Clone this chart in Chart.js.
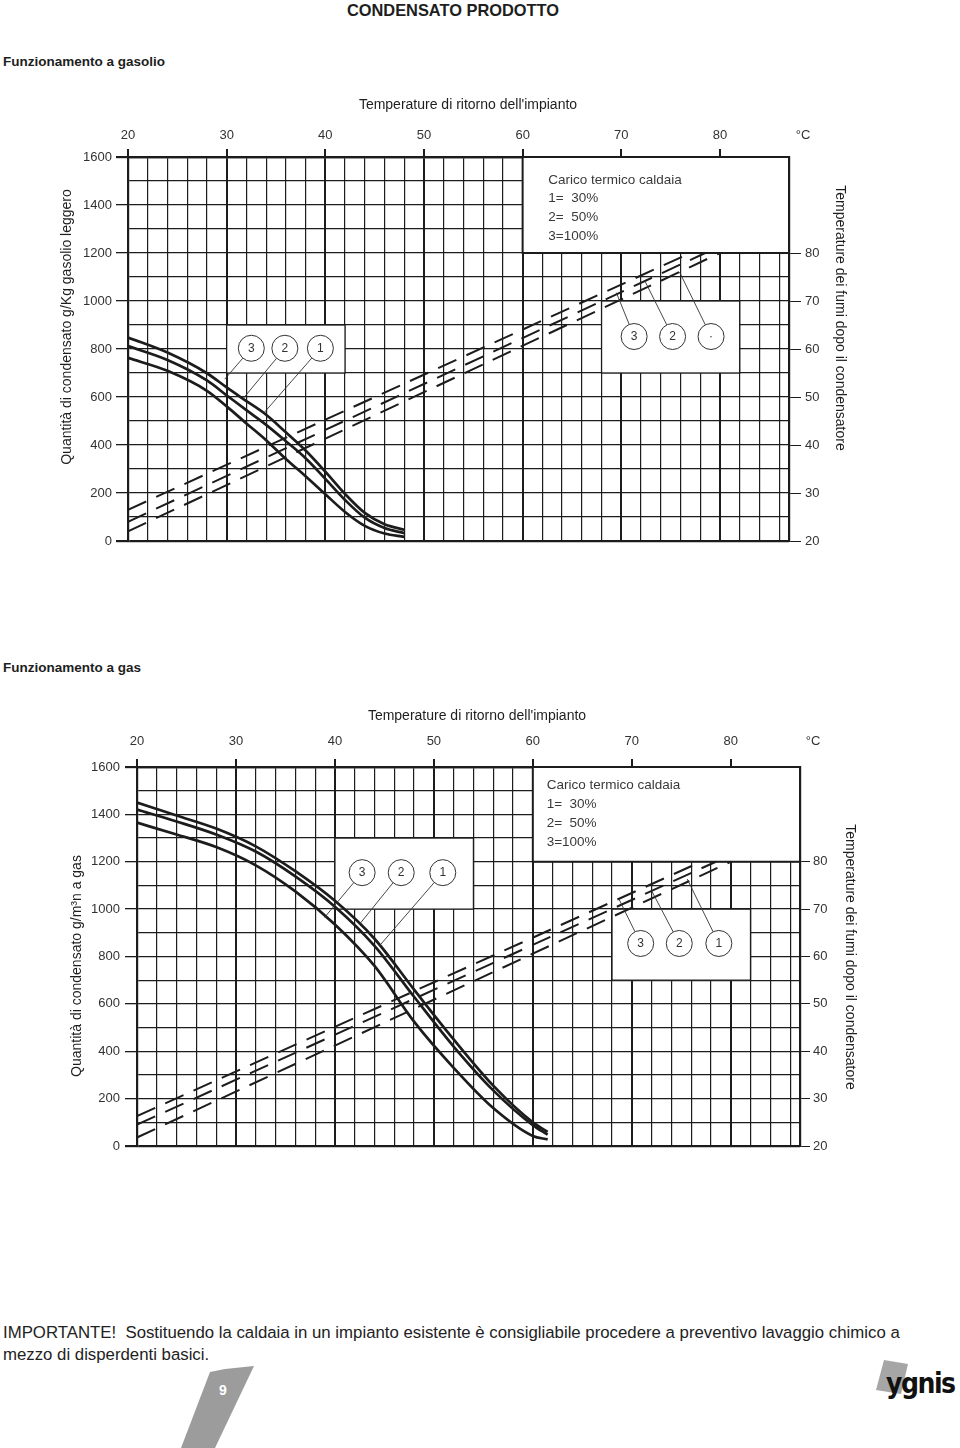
<!DOCTYPE html>
<html lang="it">
<head>
<meta charset="utf-8">
<title>Condensato prodotto</title>
<script src="https://cdn.jsdelivr.net/npm/chart.js@4.4.0/dist/chart.umd.min.js"></script>
<style>
  body { margin: 0; background: #fff; }
  #pagina { position: relative; width: 960px; height: 1448px; overflow: hidden; color: #1e1e1e; font-family: "Liberation Sans", Arial, sans-serif; }
  #pagina canvas { position: absolute; left: 0; }
  .titolo { position: absolute; top: 1px; left: 0; width: 906px; text-align: center; font-weight: bold; font-size: 16.4px; line-height: 18px; }
  .sezione { position: absolute; left: 3px; font-weight: bold; font-size: 13.5px; line-height: 16px; }
  .nota { position: absolute; left: 3px; top: 1322px; font-size: 16.8px; line-height: 22px; white-space: pre; color: #222; }
  .nastro { position: absolute; left: 180px; top: 1364px; width: 74px; height: 84px; background: #9c9c9c;
            clip-path: polygon(30px 8px, 45px 5px, 74px 2px, 35px 84px, 1px 84px); }
  .nastro span { position: absolute; left: 39px; top: 18px; color: #fff; font-weight: bold; font-size: 14px; }
  .logo-fondo { position: absolute; left: 876px; top: 1360px; width: 32px; height: 34px; background: #a6a6a6;
                clip-path: polygon(8px 0, 32px 4px, 25px 34px, 0 30px); }
  .logo { position: absolute; left: 886px; top: 1367px; font-weight: bold; font-size: 28px; letter-spacing: -1.5px; color: #111;
          font-family: "Liberation Sans Narrow", "DejaVu Sans Condensed", sans-serif; }
</style>
</head>
<body>
<div id="pagina">
  <div class="titolo">CONDENSATO PRODOTTO</div>
  <div class="sezione" style="top:54px">Funzionamento a gasolio</div>
  <canvas id="graficoGasolio" width="960" height="470" style="top:90px"></canvas>
  <div class="sezione" style="top:660px">Funzionamento a gas</div>
  <canvas id="graficoGas" width="960" height="470" style="top:700px"></canvas>
  <div class="nota">IMPORTANTE!  Sostituendo la caldaia in un impianto esistente è consigliabile procedere a preventivo lavaggio chimico a
mezzo di disperdenti basici.</div>
  <div class="nastro"><span>9</span></div>
  <div class="logo-fondo"></div>
  <div class="logo">ygnis</div>
</div>

<script>
//ETICHETTE DEGLI ASSI//
const etichetteRitorno = [20, 30, 40, 50, 60, 70, 80]   // asse superiore, °C
const etichetteQuantita = [0, 200, 400, 600, 800, 1000, 1200, 1400, 1600]
const etichetteFumi = [20, 30, 40, 50, 60, 70, 80]      // asse destro, °C

//GASOLIO - condensato (g/Kg) per carico 30/50/100%
const gasolioT = [20, 24, 28, 30, 32, 34, 36, 38, 40, 42, 44, 46, 48]
const gasolioCarico30 = [848, 785, 699, 640, 583, 526, 453, 377, 289, 196, 117, 70, 47]
const gasolioCarico50 = [812, 754, 669, 607, 545, 484, 416, 345, 259, 171, 97, 54, 33]
const gasolioCarico100 = [763, 709, 626, 561, 490, 420, 342, 270, 195, 121, 63, 31, 17]
//GASOLIO - temperatura fumi (tratteggio)
const gasolioFumiT30 = [20, 80], gasolioFumi30 = [22, 80]
const gasolioFumiT50 = [20, 78.5], gasolioFumi50 = [24, 80]
const gasolioFumiT100 = [20, 77], gasolioFumi100 = [26.5, 80]

//GAS - condensato (g/m3n)
const gasT = [20, 24, 28, 32, 36, 40, 44, 48, 52, 56, 60, 61.5]
const gasCarico30 = [1450, 1395, 1340, 1265, 1160, 1035, 875, 660, 450, 255, 100, 60]
const gasCarico50 = [1420, 1370, 1315, 1243, 1138, 1010, 845, 630, 420, 235, 88, 48]
const gasCarico100 = [1365, 1315, 1262, 1185, 1075, 935, 760, 525, 330, 160, 42, 28]
//GAS - temperatura fumi
const gasFumiT30 = [20, 80], gasFumi30 = [21.8, 80]
const gasFumiT50 = [20, 78.5], gasFumi50 = [24.5, 80]
const gasFumiT100 = [20, 77], gasFumi100 = [26.3, 80]

const legendaRighe = ["Carico termico caldaia", "1=  30%", "2=  50%", "3=100%"]

const FONT = '"Liberation Sans", Arial, sans-serif'
const NERO = '#1c1c1c'


function punti(t, v) {
    return t.map((tt, i) => ({ x: tt, y: v[i] }))
}

// posizioni della griglia ogni "passo", piu' il bordo finale
function griglia(min, max, passo) {
    const out = []
    for (let v = min; v < max - 0.001; v += passo) out.push(Math.round(v * 100) / 100)
    out.push(max)
    return out
}

function curva(t, v) {
    return {
        data: punti(t, v), yAxisID: 'y', showLine: true, pointRadius: 0,
        borderColor: NERO, borderWidth: 2.7, cubicInterpolationMode: 'monotone'
    }
}

function tratteggio(t, v) {
    return {
        data: punti(t, v), yAxisID: 'y2', showLine: true, pointRadius: 0,
        borderColor: NERO, borderWidth: 2, borderDash: [20, 11]
    }
}

//PLUGIN: riquadri bianchi, cerchi di richiamo, legenda e titoli assi
const decorPlugin = {
    id: 'decor',
    beforeDatasetsDraw(chart, args, o) {
        const ctx = chart.ctx, x = chart.scales.x, y = chart.scales.y
        ctx.save()
        o.riquadri.forEach(r => {
            const x0 = x.getPixelForValue(r.t[0]), x1 = x.getPixelForValue(r.t[1])
            const ya = y.getPixelForValue(r.q[1]), yb = y.getPixelForValue(r.q[0])
            ctx.fillStyle = '#fff'
            ctx.fillRect(x0, ya, x1 - x0, yb - ya)
            ctx.strokeStyle = NERO
            ctx.lineWidth = r.w
            ctx.strokeRect(x0, ya, x1 - x0, yb - ya)
        })
        ctx.restore()
    },
    afterDatasetsDraw(chart, args, o) {
        const ctx = chart.ctx, x = chart.scales.x, y = chart.scales.y
        ctx.save()
        ctx.fillStyle = '#3a3a3a'
        ctx.font = '13.5px ' + FONT
        ctx.textBaseline = 'middle'
        legendaRighe.forEach((riga, i) => {
            ctx.fillText(riga, x.getPixelForValue(o.legenda.t), y.getPixelForValue(o.legenda.q[i]))
        })
        o.cerchi.forEach(c => {
            const cx = x.getPixelForValue(c.t), cy = y.getPixelForValue(c.q)
            const ex = x.getPixelForValue(c.fine[0]), ey = y.getPixelForValue(c.fine[1])
            const a = Math.atan2(ey - cy, ex - cx)
            ctx.strokeStyle = '#333'
            ctx.lineWidth = 0.9
            ctx.beginPath()
            ctx.moveTo(cx + 13 * Math.cos(a), cy + 13 * Math.sin(a))
            ctx.lineTo(ex, ey)
            ctx.stroke()
            ctx.beginPath()
            ctx.arc(cx, cy, 13, 0, Math.PI * 2)
            ctx.fillStyle = '#fff'
            ctx.fill()
            ctx.lineWidth = 1
            ctx.stroke()
            ctx.fillStyle = '#333'
            ctx.font = '12px ' + FONT
            ctx.textAlign = 'center'
            ctx.fillText(c.n, cx, cy + 0.5)
            ctx.textAlign = 'left'
        })
        ctx.restore()
    },
    afterDraw(chart, args, o) {
        const ctx = chart.ctx, ca = chart.chartArea
        const midX = (ca.left + ca.right) / 2, midY = (ca.top + ca.bottom) / 2
        ctx.save()
        ctx.fillStyle = '#1e1e1e'
        ctx.font = '14px ' + FONT
        ctx.textAlign = 'center'
        ctx.textBaseline = 'middle'
        ctx.fillText(o.titoli.x, midX + o.titoli.px[0], ca.top + o.titoli.px[1])
        ctx.save()
        ctx.translate(ca.left + o.titoli.py[0], midY + o.titoli.py[1])
        ctx.rotate(-Math.PI / 2)
        ctx.fillText(o.titoli.y, 0, 0)
        ctx.restore()
        ctx.save()
        ctx.translate(ca.right + o.titoli.py2[0], midY + o.titoli.py2[1])
        ctx.rotate(Math.PI / 2)
        ctx.fillText(o.titoli.y2, 0, 0)
        ctx.restore()
        ctx.fillStyle = '#333'
        ctx.font = '13px ' + FONT
        ctx.fillText('°C', ca.right + o.gradi[0], ca.top + o.gradi[1])
        ctx.restore()
    }
}

function creaScale(g) {
    const tick = { color: '#333', font: { family: FONT, size: 13 } }
    return {
        x: {
            type: 'linear', position: 'top', min: 20, max: g.xMax,
            afterBuildTicks: s => { s.ticks = griglia(20, g.xMax, 2).map(v => ({ value: v })) },
            afterFit: s => { s.height = g.T },
            ticks: { ...tick, autoSkip: false, maxRotation: 0, padding: g.padX,
                callback: v => etichetteRitorno.includes(v) ? String(v) : '' },
            grid: {
                color: NERO, tickLength: 8,
                lineWidth: c => (c.tick.value % 10 === 0 || c.tick.value === g.xMax) ? 2 : 1.2,
                tickColor: c => etichetteRitorno.includes(c.tick.value) ? NERO : 'rgba(0,0,0,0)'
            },
            border: { color: NERO, width: 2.2 }
        },
        y: {
            type: 'linear', position: 'left', min: 0, max: 1600,
            afterBuildTicks: s => { s.ticks = griglia(0, 1600, 100).map(v => ({ value: v })) },
            afterFit: s => { s.width = g.L },
            ticks: { ...tick, padding: g.padY, callback: v => etichetteQuantita.includes(v) ? String(v) : '' },
            grid: {
                color: NERO, tickLength: 12,
                lineWidth: c => (c.tick.value === 0 || c.tick.value === 1600) ? 2.2 : 1.3,
                tickColor: c => etichetteQuantita.includes(c.tick.value) ? NERO : 'rgba(0,0,0,0)'
            },
            border: { color: NERO, width: 2.2 }
        },
        y2: {
            type: 'linear', position: 'right', min: 20, max: 100,
            afterBuildTicks: s => { s.ticks = etichetteFumi.map(v => ({ value: v })) },
            afterFit: s => { s.width = 960 - g.R },
            ticks: { ...tick, padding: g.padY2 },
            grid: { drawOnChartArea: false, color: NERO, tickLength: g.tickY2 },
            border: { color: NERO, width: 2.2 }
        }
    }
}

function creaGrafico(id, g, datasets, decor) {
    return new Chart(document.getElementById(id), {
        type: 'scatter',
        data: { datasets },
        options: {
            responsive: false, animation: false, devicePixelRatio: 1,
            layout: { padding: { left: 0, right: 0, top: 0, bottom: g.basso } },
            plugins: { legend: { display: false }, tooltip: { enabled: false }, decor },
            scales: creaScale(g)
        },
        plugins: [decorPlugin]
    })
}

//GRAFICO GASOLIO
creaGrafico('graficoGasolio',
    { L: 128, R: 789, T: 67, basso: 19, xMax: 87, padX: 6, padY: 4, padY2: 4, tickY2: 12 },
    [
        tratteggio(gasolioFumiT30, gasolioFumi30),
        tratteggio(gasolioFumiT50, gasolioFumi50),
        tratteggio(gasolioFumiT100, gasolioFumi100),
        curva(gasolioT, gasolioCarico30),
        curva(gasolioT, gasolioCarico50),
        curva(gasolioT, gasolioCarico100)
    ],
    {
        riquadri: [
            { t: [60, 87], q: [1200, 1600], w: 2 },
            { t: [30, 42], q: [700, 900], w: 1.3 },
            { t: [68, 82], q: [700, 1000], w: 1.3 }
        ],
        legenda: { t: 62.6, q: [1503, 1428, 1349, 1270] },
        cerchi: [
            { n: '3', t: 32.5, q: 803, fine: [29.8, 674] },
            { n: '2', t: 35.9, q: 803, fine: [31.7, 595] },
            { n: '1', t: 39.5, q: 803, fine: [33.8, 535] },
            { n: '3', t: 71.3, q: 852, fine: [69.5, 1035] },
            { n: '2', t: 75.2, q: 852, fine: [72.4, 1083] },
            { n: '·', t: 79.1, q: 852, fine: [75.9, 1121] }
        ],
        titoli: {
            x: "Temperature di ritorno dell'impianto", px: [9.5, -52],
            y: 'Quantità di condensato g/Kg gasolio leggero', py: [-61, -22],
            y2: 'Temperature dei fumi dopo il condensatore', py2: [51, -31]
        },
        gradi: [14, -22]
    })

//GRAFICO GAS
creaGrafico('graficoGas',
    { L: 137, R: 800, T: 67, basso: 24, xMax: 87, padX: 10, padY: 5, padY2: 3, tickY2: 10 },
    [
        tratteggio(gasFumiT30, gasFumi30),
        tratteggio(gasFumiT50, gasFumi50),
        tratteggio(gasFumiT100, gasFumi100),
        curva(gasT, gasCarico30),
        curva(gasT, gasCarico50),
        curva(gasT, gasCarico100)
    ],
    {
        riquadri: [
            { t: [60, 87], q: [1200, 1600], w: 2 },
            { t: [40, 54], q: [1000, 1300], w: 1.3 },
            { t: [68, 82], q: [700, 1000], w: 1.3 }
        ],
        legenda: { t: 61.4, q: [1524, 1444, 1364, 1283] },
        cerchi: [
            { n: '3', t: 42.75, q: 1154, fine: [38.95, 965] },
            { n: '2', t: 46.7, q: 1154, fine: [42.5, 937] },
            { n: '1', t: 50.9, q: 1154, fine: [44.5, 845] },
            { n: '3', t: 70.9, q: 855, fine: [68.7, 1043] },
            { n: '2', t: 74.8, q: 855, fine: [72.0, 1078] },
            { n: '1', t: 78.8, q: 855, fine: [75.6, 1127] }
        ],
        titoli: {
            x: "Temperature di ritorno dell'impianto", px: [8.5, -51],
            y: 'Quantità di condensato g/m³n a gas', py: [-60, 9.5],
            y2: 'Temperature dei fumi dopo il condensatore', py2: [50, 0.5]
        },
        gradi: [13, -26]
    })
</script>
</body>
</html>
